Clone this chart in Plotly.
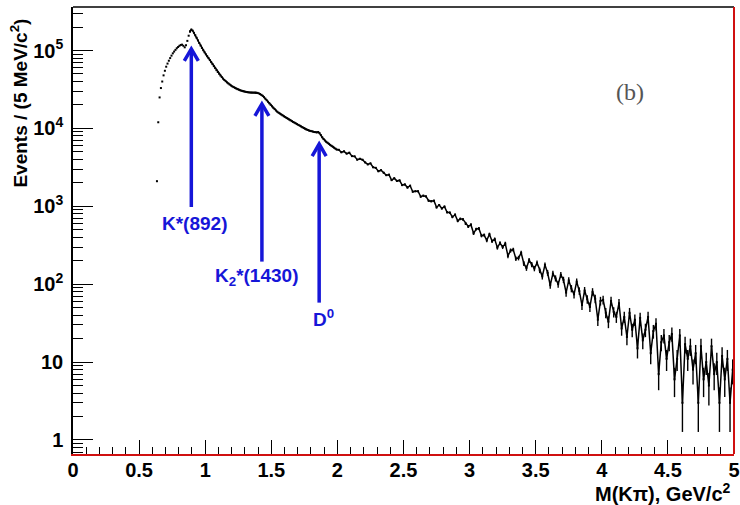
import numpy as np
import plotly.graph_objects as go

# ---------------- data (counts per 5 MeV/c^2) ----------------
LOW_START, LOW_STEP = 0.635, 0.01     # bin centres, low-mass region
low_counts = [
    2100, 12000, 25000, 33000, 40000, 48000, 55000, 62000, 68000, 74000,
    80000, 86000, 92000, 97000, 102000, 107000, 111000, 115000, 118000, 119000,
    115000, 110000, 117000, 133000, 155000, 176000, 186000, 180000, 169000, 157000,
    146000, 135000, 125000, 116000, 108000, 101000, 95000, 89500, 84500, 80000,
    75500, 71000, 67000, 63000, 59500, 56000, 53000, 50300, 47800, 45600,
    43600, 41900, 40400, 39000, 37800, 36600, 35600, 34700, 33900, 33200,
    32500, 31900, 31400, 30900, 30500, 30100, 29800, 29500, 29300, 29100,
    29000, 28900, 28900, 28900, 28900, 28800, 28600, 28200, 27600, 27000,
    26200, 25200, 24100, 23000, 22000, 21000, 20100, 19200, 18400, 17700,
    17000, 16400, 15900, 15500, 15100, 14700, 14300, 14000, 13600, 13300,
    13000, 12700, 12400, 12100, 11850, 11600, 11350, 11100, 10850, 10600,
    10350, 10100, 9900, 9700, 9550, 9400, 9300, 9200, 9100, 9000,
    8950, 8900, 9000, 8700, 8200, 7700, 7300, 7000, 6750, 6550,
    6350, 6150, 5980, 5820, 5660, 5500, 5350,
]
HIGH_START, HIGH_STEP = 2.01, 0.02    # bin centres, high-mass region
high_counts = [
    5320, 4940, 5080, 4750, 4880, 4410, 4380, 3970, 4080, 3960,
    3660, 3450, 3560, 3170, 3120, 2820, 2910, 2700, 2510, 2550,
    2170, 2290, 2120, 2150, 1870, 1910, 1740, 1840, 1540, 1560,
    1560, 1330, 1370, 1340, 1180, 1160, 1180, 970, 1040, 940,
    990, 840, 830, 730, 780, 650, 690, 680, 600, 550,
    580, 450, 510, 520, 420, 427, 366, 438, 357, 377,
    295, 337, 300, 332, 231, 271, 278, 213, 217, 253,
    185, 161, 203, 179, 159, 188, 151, 126, 177, 140,
    97, 137, 119, 100, 132, 114, 78, 112, 88, 74,
    108, 82, 54, 83, 64, 51, 80, 65, 35, 61,
    63, 43, 33, 61, 44, 38, 57, 27, 38, 21,
    43, 26, 35, 15, 37, 19, 26, 38, 13, 25,
    31, 7, 18, 22, 11, 18, 23, 6, 11, 22,
    3, 17, 11, 16, 8, 13, 3, 16, 6, 10,
    5, 16, 7, 10, 3, 12, 6, 11, 3, 8,
]

# resonance markers
res_labels = ["K*(892)", "K<sub>2</sub>*(1430)", "D<sup>0</sup>"]
res_mass = [0.895, 1.429, 1.862]
res_tip = [1.05e5, 2.06e4, 6.3e3]
res_tail = [980, 195, 58]
res_label_x = [0.918, 1.386, 1.895]
res_label_y = [600, 123, 37]

x_ticks = [0, 0.5, 1, 1.5, 2, 2.5, 3, 3.5, 4, 4.5, 5]
x_ticktext = ["0", "0.5", "1", "1.5", "2", "2.5", "3", "3.5", "4", "4.5", "5"]
y_ticks = [1, 10, 100, 1000, 10000, 100000]
y_ticktext = ["1", "10", "10<sup>2</sup>", "10<sup>3</sup>", "10<sup>4</sup>", "10<sup>5</sup>"]

# ---------------- build ----------------
x_low = LOW_START + LOW_STEP * np.arange(len(low_counts))
x_high = HIGH_START + HIGH_STEP * np.arange(len(high_counts))
y_low = np.array(low_counts, dtype=float)
y_high = np.array(high_counts, dtype=float)

FONT = "Liberation Sans"
BLUE = "#1616d8"

fig = go.Figure()
# rising edge: separate dots
n_rise = 26
fig.add_trace(go.Scatter(
    x=x_low[:n_rise], y=y_low[:n_rise], mode="markers",
    marker=dict(size=2, color="black", symbol="square"),
    error_y=dict(type="data", array=np.sqrt(y_low[:n_rise]), width=0, thickness=1, color="black"),
    showlegend=False, hoverinfo="x+y",
))
# rest of the spectrum
x_rest = np.concatenate([x_low[n_rise - 1:], x_high])
y_rest = np.concatenate([y_low[n_rise - 1:], y_high])
fig.add_trace(go.Scatter(
    x=x_rest, y=y_rest, mode="lines+markers",
    line=dict(color="black", width=1.5),
    marker=dict(size=2, color="black", symbol="square"),
    error_y=dict(type="data", array=np.sqrt(y_rest), width=0, thickness=1.4, color="black"),
    showlegend=False, hoverinfo="x+y",
))

# arrows
head_dx, head_dlog = 0.053, 0.154
for m, tip, tail in zip(res_mass, res_tip, res_tail):
    arm = tip / 10 ** head_dlog
    fig.add_trace(go.Scatter(
        x=[m, m, None, m - head_dx, m, m + head_dx],
        y=[tail, tip, None, arm, tip, arm],
        mode="lines", line=dict(color=BLUE, width=3.5),
        showlegend=False, hoverinfo="skip",
    ))

for lab, lx, ly in zip(res_labels, res_label_x, res_label_y):
    fig.add_annotation(x=lx, y=np.log10(ly), xref="x", yref="y", text=lab,
                       showarrow=False, font=dict(family=FONT, size=19, color=BLUE, weight="bold"),
                       xanchor="center", yanchor="middle")

fig.add_annotation(x=0.843, y=0.81, xref="paper", yref="paper", text="(b)",
                   showarrow=False, font=dict(family="Liberation Serif", size=24, color="#555555"),
                   xanchor="center", yanchor="middle")

fig.add_annotation(x=-0.081, y=0.785, xref="paper", yref="paper",
                   text="Events / (5 MeV/c<sup>2</sup>)", textangle=-90, showarrow=False,
                   font=dict(family=FONT, size=19, color="black", weight="bold"),
                   xanchor="center", yanchor="middle")
fig.add_annotation(x=0.999, y=-0.087, xref="paper", yref="paper",
                   text="M(K\u03c0), GeV/c<sup>2</sup>", showarrow=False,
                   font=dict(family=FONT, size=20, color="black", weight="bold"),
                   xanchor="right", yanchor="middle")

# frame: top black, right red
fig.add_shape(type="line", xref="x domain", yref="y domain", x0=0, x1=1, y0=1, y1=1,
              line=dict(color="black", width=1.5))
fig.add_shape(type="line", xref="x domain", yref="y domain", x0=1, x1=1, y0=0, y1=1,
              line=dict(color="#d01010", width=2))

y_minor = [v * 10 ** d for d in range(-1, 6) for v in range(2, 10)]
y_minor = [v for v in y_minor if 0.66 < v < 3.6e5]

fig.update_layout(
    width=740, height=505,
    margin=dict(l=73, r=6, t=7, b=51),
    paper_bgcolor="white", plot_bgcolor="white",
    xaxis=dict(
        range=[0, 5], tickvals=x_ticks, ticktext=x_ticktext, automargin=False,
        ticks="inside", ticklen=14, tickwidth=1, tickcolor="black",
        minor=dict(dtick=0.1, ticks="inside", ticklen=7, tickcolor="black", tickwidth=1),
        showline=True, linecolor="#d01010", linewidth=2, mirror=False,
        showgrid=False, zeroline=False,
        tickfont=dict(family=FONT, size=20, color="black", weight="bold"),
        ticklabelstandoff=-3,
    ),
    yaxis=dict(
        type="log", range=[-0.18, 5.559], tickvals=y_ticks, ticktext=y_ticktext, automargin=False,
        ticks="inside", ticklen=20, tickwidth=1, tickcolor="black",
        minor=dict(tickvals=y_minor, ticks="inside", ticklen=10, tickcolor="black", tickwidth=1),
        showline=True, linecolor="black", linewidth=1.5, mirror=False,
        showgrid=False, zeroline=False,
        tickfont=dict(family=FONT, size=20, color="black", weight="bold"),
        ticklabelstandoff=4,
    ),
)

fig.write_html("out.html", config={"displayModeBar": False},
               post_script="document.body.style.margin='0px';document.body.style.overflow='hidden';")
